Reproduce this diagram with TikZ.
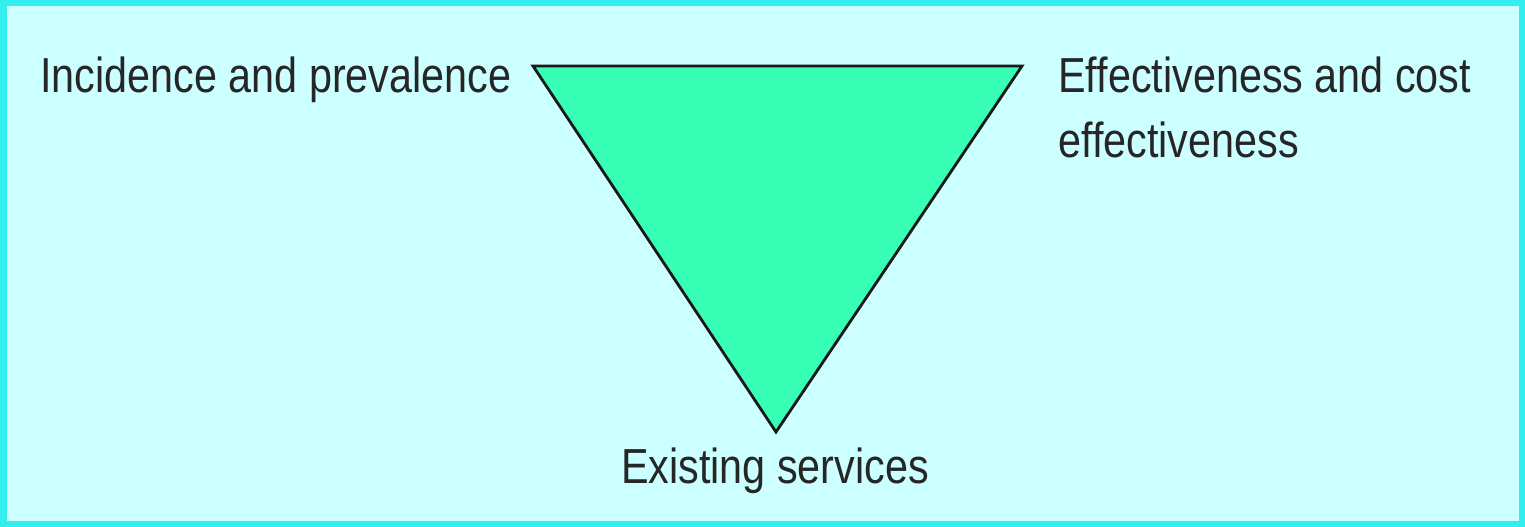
\documentclass[tikz,border=0pt]{standalone}
\usepackage{fontspec}
\setmainfont[FakeStretch=0.84]{Liberation Sans}
\definecolor{panelbg}{HTML}{CCFFFF}
\definecolor{panelrim}{HTML}{33EEEE}
\definecolor{trifill}{HTML}{38FFB6}

\begin{document}
\begin{tikzpicture}[
    x=0.02cm, y=0.02cm,
    every node/.style={
      font=\fontsize{28}{37}\selectfont,
      text=black!85,
      inner sep=0pt
    },
    triangle/.style={draw=black!90, line width=1.6pt, fill=trifill, line join=miter}
  ]
    % frame
    \fill[panelrim] (0,0) rectangle (1525,527);
    \fill[panelbg] (7,6) rectangle (1519,521);
    \useasboundingbox (0,0) rectangle (1525,527);

    % triangle corners
    \coordinate (tl) at (533,461);
    \coordinate (tr) at (1022,461);
    \coordinate (bot) at (776,95);
    \draw[triangle] (tl) -- (tr) -- (bot) -- cycle;

    \node (incid) [anchor=base west] at (40,434) {Incidence and prevalence};
    \node (effect1) [anchor=base west] at (1058,434) {Effectiveness and cost};
    \node (effect2) [anchor=base west] at (1058,369) {effectiveness};
    \node (exist) [anchor=base] at (775,43) {Existing services};
  \end{tikzpicture}
\end{document}
